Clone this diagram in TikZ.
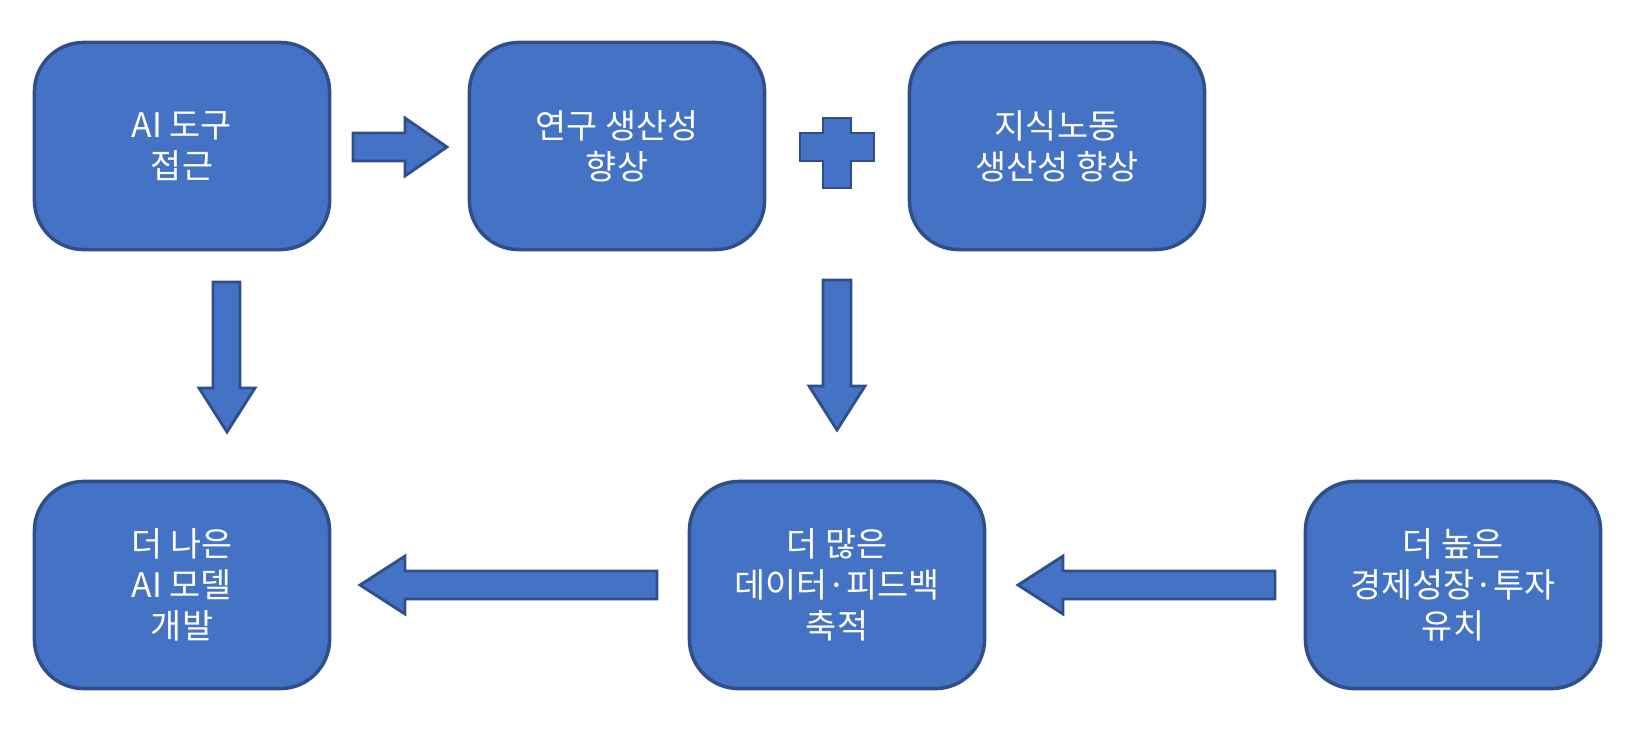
\documentclass[tikz,border=0pt]{standalone}
\usepackage{fontspec}
\setmainfont{Noto Sans CJK KR}
\tikzset{
	box/.style = {draw=bordblue, fill=boxblue, line width=1pt, rounded corners=14pt, minimum width=2.95cm, minimum height=2.07cm, text=white, align=center, font=\fontsize{9.6pt}{11.6pt}\selectfont},
	blockarrow/.style = {draw=bordblue, fill=boxblue, line width=0.8pt}
}
\definecolor{boxblue}{HTML}{4472C4}
\definecolor{bordblue}{HTML}{2F4F8A}
\begin{document}
\begin{tikzpicture}[x=0.01cm, y=-0.01cm]
			\useasboundingbox (0,0) rectangle (1634,735);
			\node[box] (tool) at (182,146) {AI 도구\\접근};
			\node[box] (research) at (617,146) {연구 생산성\\향상};
			\node[box] (labor) at (1057,146) {지식노동\\생산성 향상};
			\node[box] (model) at (182,585) {더 나은\\AI 모델\\개발};
			\node[box] (data) at (837,585) {더 많은\\데이터·피드백\\축적};
			\node[box] (growth) at (1453,585) {더 높은\\경제성장·투자\\유치};
			% block arrows
			\draw[blockarrow] (353,133) -- (405,133) -- (405,118) -- (447,147) -- (405,176) -- (405,161) -- (353,161) -- cycle;
			\draw[blockarrow] (823,118) -- (851,118) -- (851,133) -- (874,133) -- (874,161) -- (851,161) -- (851,188) -- (823,188) -- (823,161) -- (800,161) -- (800,133) -- (823,133) -- cycle;
			\draw[blockarrow] (213,282) -- (240,282) -- (240,388) -- (255,388) -- (227,432) -- (199,388) -- (213,388) -- cycle;
			\draw[blockarrow] (823,280) -- (851,280) -- (851,386) -- (865,386) -- (837,430) -- (809,386) -- (823,386) -- cycle;
			\draw[blockarrow] (657,571) -- (405,571) -- (405,556) -- (360,585) -- (405,614) -- (405,599) -- (657,599) -- cycle;
			\draw[blockarrow] (1275,571) -- (1063,571) -- (1063,556) -- (1018,585) -- (1063,614) -- (1063,599) -- (1275,599) -- cycle;
\end{tikzpicture}
\end{document}
